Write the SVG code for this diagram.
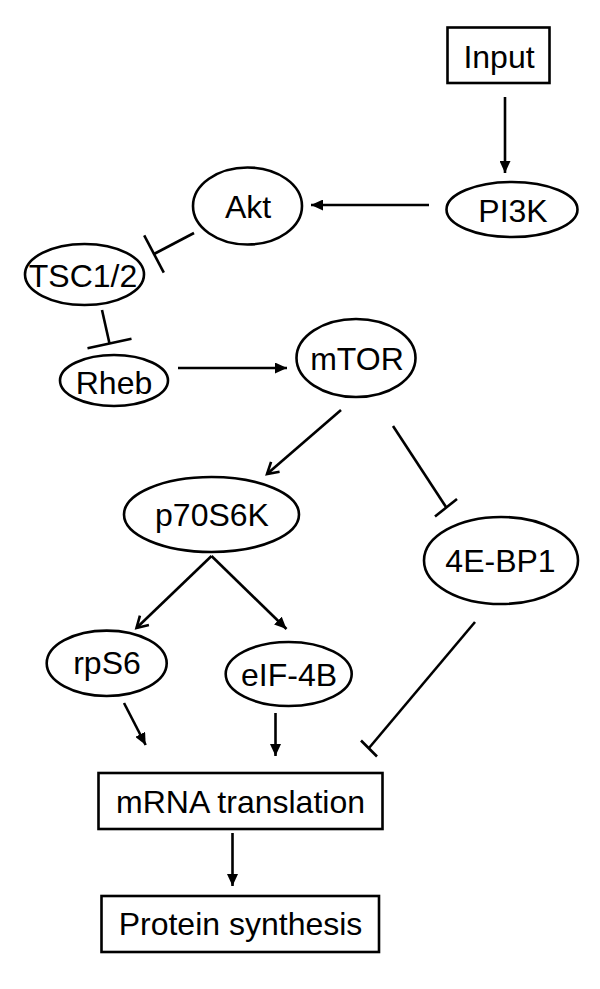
<svg xmlns="http://www.w3.org/2000/svg" width="600" height="989" viewBox="0 0 600 989">
<style>
.n{fill:#fff;stroke:#000;stroke-width:2.6}
.t{font-family:"Liberation Sans",Arial,sans-serif;font-size:32px;fill:#000;text-anchor:middle}
.c{stroke:#000;stroke-width:2.6;fill:none}
</style>
<defs>
<marker id="ah" markerUnits="userSpaceOnUse" markerWidth="13" markerHeight="11" refX="12" refY="5.5" orient="auto">
<path d="M0,0 L12,5.5 L0,11 Z" fill="#000"/>
</marker>
<marker id="av" markerUnits="userSpaceOnUse" markerWidth="16" markerHeight="16" refX="13" refY="8" orient="auto">
<path d="M2,1.5 L13,8 L2,14.5" fill="none" stroke="#000" stroke-width="2.6"/>
</marker>
</defs>
<rect width="600" height="989" fill="#fff"/>
<g id="connectors">
<line class="c" x1="505" y1="97" x2="505" y2="173" marker-end="url(#ah)"/>
<line class="c" x1="429" y1="205" x2="311" y2="205" marker-end="url(#ah)"/>
<line class="c" x1="194" y1="233" x2="154" y2="254"/>
<line class="c" x1="144.2" y1="235.4" x2="163.8" y2="272.6"/>
<line class="c" x1="102" y1="310" x2="109.5" y2="343.5"/>
<line class="c" x1="87.5" y1="348.2" x2="131.5" y2="338.8"/>
<line class="c" x1="178" y1="368" x2="287" y2="368" marker-end="url(#ah)"/>
<line class="c" x1="341" y1="410" x2="267" y2="474" marker-end="url(#av)"/>
<line class="c" x1="393" y1="426" x2="446" y2="507"/>
<line class="c" x1="435" y1="516.5" x2="457" y2="499"/>
<line class="c" x1="211.5" y1="556" x2="136.5" y2="628" marker-end="url(#av)"/>
<line class="c" x1="211.5" y1="556" x2="286.5" y2="629" marker-end="url(#ah)"/>
<line class="c" x1="475" y1="622" x2="369" y2="748"/>
<line class="c" x1="361" y1="740.5" x2="377" y2="756.5"/>
<line class="c" x1="124" y1="703" x2="145.7" y2="745" marker-end="url(#ah)"/>
<line class="c" x1="275.5" y1="713" x2="275.5" y2="756" marker-end="url(#ah)"/>
<line class="c" x1="232.5" y1="833" x2="232.5" y2="886" marker-end="url(#ah)"/>
</g>
<g id="input"><rect class="n" x="447.5" y="27.5" width="102" height="55.5"/><text class="t" x="499" y="68">Input</text></g>
<g id="pi3k"><ellipse class="n" cx="512" cy="209.5" rx="65.5" ry="27.5"/><text class="t" x="513" y="222">PI3K</text></g>
<g id="akt"><ellipse class="n" cx="247.5" cy="206" rx="54.5" ry="38.5"/><text class="t" x="248" y="218">Akt</text></g>
<g id="tsc"><ellipse class="n" cx="84.5" cy="274.5" rx="59.5" ry="30.5"/><text class="t" x="83" y="287">TSC1/2</text></g>
<g id="rheb"><ellipse class="n" cx="114" cy="380.5" rx="54" ry="25.5"/><text class="t" x="114" y="394">Rheb</text></g>
<g id="mtor"><ellipse class="n" cx="356" cy="358" rx="59.5" ry="39"/><text class="t" x="357" y="370">mTOR</text></g>
<g id="p70s6k"><ellipse class="n" cx="211.5" cy="514.5" rx="87.5" ry="37.5"/><text class="t" x="212" y="526">p70S6K</text></g>
<g id="4ebp1"><ellipse class="n" cx="501" cy="560.5" rx="77" ry="43.5"/><text class="t" x="500.5" y="572">4E-BP1</text></g>
<g id="rps6"><ellipse class="n" cx="106.7" cy="663.3" rx="60" ry="32.7"/><text class="t" x="107" y="674">rpS6</text></g>
<g id="eif4b"><ellipse class="n" cx="288.7" cy="674" rx="63" ry="32"/><text class="t" x="289" y="686">eIF-4B</text></g>
<g id="mrna"><rect class="n" x="98.5" y="773" width="284" height="56"/><text class="t" x="240.5" y="813">mRNA translation</text></g>
<g id="protein"><rect class="n" x="101.5" y="896" width="277.5" height="56"/><text class="t" x="240.5" y="935">Protein synthesis</text></g>
</svg>
